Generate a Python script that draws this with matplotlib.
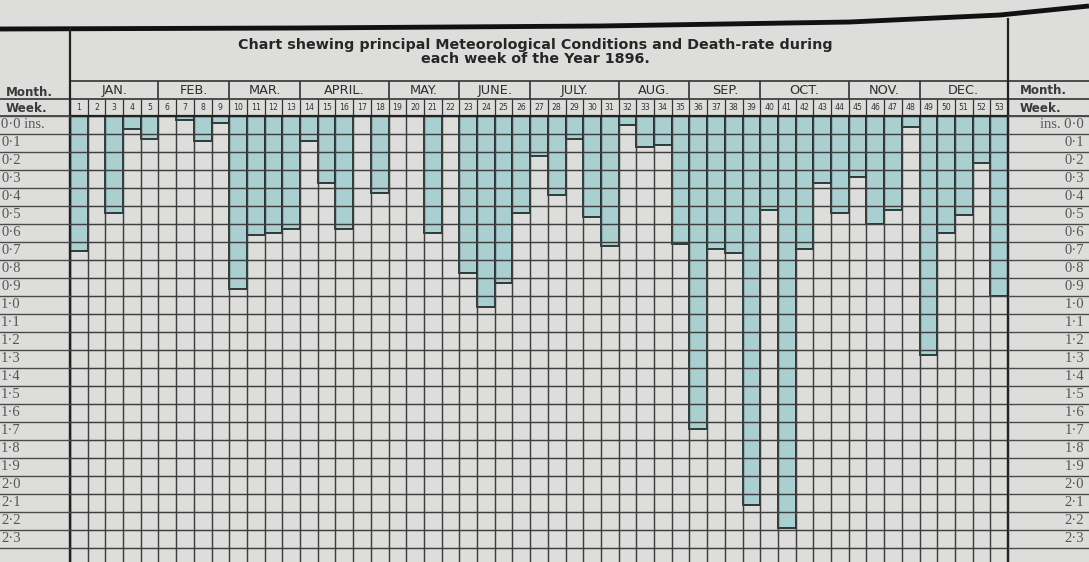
import numpy as np
import matplotlib.pyplot as plt
from matplotlib.transforms import blended_transform_factory

# weekly rainfall in inches, 1896 (bars hang down from the top line)
weeks = np.arange(1, 54)
rain = [0.75, 0.00, 0.54, 0.07, 0.13, 0.00, 0.02, 0.14, 0.04,
        0.96, 0.66, 0.65, 0.63, 0.14, 0.37, 0.63, 0.00, 0.43,
        0.00, 0.00, 0.65, 0.00, 0.87, 1.06, 0.93, 0.54, 0.22,
        0.44, 0.13, 0.56, 0.72, 0.05, 0.17, 0.16, 0.71, 1.74,
        0.74, 0.76, 2.16, 0.52, 2.29, 0.74, 0.37, 0.54, 0.34,
        0.60, 0.52, 0.06, 1.33, 0.65, 0.55, 0.26, 1.00]

months = ['JAN.', 'FEB.', 'MAR.', 'APRIL.', 'MAY.', 'JUNE.', 'JULY.',
          'AUG.', 'SEP.', 'OCT.', 'NOV.', 'DEC.']
month_weeks = [5, 4, 4, 5, 4, 4, 5, 4, 4, 5, 4, 5]

inch_labels = ['0·0', '0·1', '0·2', '0·3', '0·4', '0·5', '0·6', '0·7',
               '0·8', '0·9', '1·0', '1·1', '1·2', '1·3', '1·4', '1·5',
               '1·6', '1·7', '1·8', '1·9', '2·0', '2·1', '2·2', '2·3']
inch_values = [0.0, 0.1, 0.2, 0.3, 0.4, 0.5, 0.6, 0.7, 0.8, 0.9, 1.0, 1.1,
               1.2, 1.3, 1.4, 1.5, 1.6, 1.7, 1.8, 1.9, 2.0, 2.1, 2.2, 2.3]

title = ('Chart shewing principal Meteorological Conditions and Death-rate during\n'
         'each week of the Year 1896.')

paper = '#dddddb'
ink = '#333333'
bar_col = '#a9cfd1'

W, H = 1089, 562
top = 116            # pixel row where the grid starts
left, right = 70, 1008
row_px = 18          # one 0.1 in. row

fig = plt.figure(figsize=(W / 100, H / 100), dpi=100, facecolor=paper)

ax = fig.add_axes([left / W, 0, (right - left) / W, (H - top) / H])
ax.set_facecolor(paper)
ax.bar(weeks, rain, width=1.0, color=bar_col, edgecolor='#1f2e2e',
       linewidth=1.3, zorder=1)
ax.set_xlim(0.5, 53.5)
ax.set_ylim((H - top) / row_px / 10, 0)
ax.set_xticks(np.arange(0.5, 54, 1))
ax.set_yticks(np.arange(0, 2.5, 0.1))
ax.tick_params(length=0, labelbottom=False, labelleft=False)
ax.grid(True, color='#3e3e3e', linewidth=1.05)
ax.set_axisbelow(False)
for s in ['top', 'bottom']:
    ax.spines[s].set_visible(False)
for s in ['left', 'right']:
    ax.spines[s].set_color('#2a2a2a')
    ax.spines[s].set_linewidth(1.6)

# overlay in pixel coordinates for the table header and side columns
hd = fig.add_axes([0, 0, 1, 1], zorder=3)
hd.set_xlim(0, W)
hd.set_ylim(H, 0)
hd.axis('off')
hd.patch.set_alpha(0)

tx = blended_transform_factory(ax.transData, hd.transData)   # x = week, y = px
ty = blended_transform_factory(hd.transData, ax.transData)   # x = px, y = inches

# top border (paper is slightly curved)
hd.plot([0, 300, 600, 850, 1000, 1089], [29, 28, 26, 22, 15, 6],
        color='#111111', lw=3.5, solid_capstyle='butt')
hd.text(535, 52, title, ha='center', va='center', fontsize=10.3,
        fontweight='bold', color='#262626', family='DejaVu Sans',
        linespacing=1.05)

# header rows
hd.hlines([81, 99], left, right, color=ink, lw=1.2)
hd.hlines([99, top], 0, left, color=ink, lw=1.2)
hd.hlines([81, 99, top], right, W, color=ink, lw=1.2)
hd.hlines(top, left, right, color='#222222', lw=1.6)
hd.vlines(left, 28, H, color='#222222', lw=1.6)
hd.vlines(right, 18, H, color='#222222', lw=1.6)

bounds = np.cumsum([0] + month_weeks) + 0.5
ax.vlines(bounds, 81, 99, transform=tx, color=ink, lw=1.2, clip_on=False)
ax.vlines(np.arange(0.5, 54, 1), 99, top, transform=tx, color=ink, lw=0.9,
          clip_on=False)
for m, a, b in zip(months, bounds[:-1], bounds[1:]):
    ax.text((a + b) / 2, 90.5, m, transform=tx, ha='center', va='center',
            fontsize=9.3, color='#2e2e2e', family='DejaVu Sans', clip_on=False)
for w in weeks:
    ax.text(w, 108, str(w), transform=tx, ha='center', va='center',
            fontsize=5.6, color='#333333', family='DejaVu Sans', clip_on=False)

side = dict(ha='left', va='center', fontsize=8.6, fontweight='bold',
            color='#3a3a3a', family='DejaVu Sans')
hd.text(6, 92, 'Month.', **side)
hd.text(6, 108, 'Week.', **side)
hd.text(1020, 90, 'Month.', **side)
hd.text(1020, 108, 'Week.', **side)

# inch scale on both sides, one label per 0.1 in. row
for v in inch_values + [2.4]:
    hd.plot([0, left], [v, v], transform=ty, color='#4a4a4a', lw=1.0)
    hd.plot([right, W], [v, v], transform=ty, color='#4a4a4a', lw=1.0)
for i, (lab, v) in enumerate(zip(inch_labels, inch_values)):
    ltxt = lab + ' ins.' if i == 0 else lab
    rtxt = 'ins. ' + lab if i == 0 else lab
    hd.text(1, v + 0.05, ltxt, transform=ty, ha='left', va='center',
            fontsize=10.5, color='#555555', family='Liberation Serif')
    hd.text(W - 5, v + 0.05, rtxt, transform=ty, ha='right', va='center',
            fontsize=10.5, color='#555555', family='Liberation Serif')

fig.savefig('out.png', dpi=100, facecolor=paper)
